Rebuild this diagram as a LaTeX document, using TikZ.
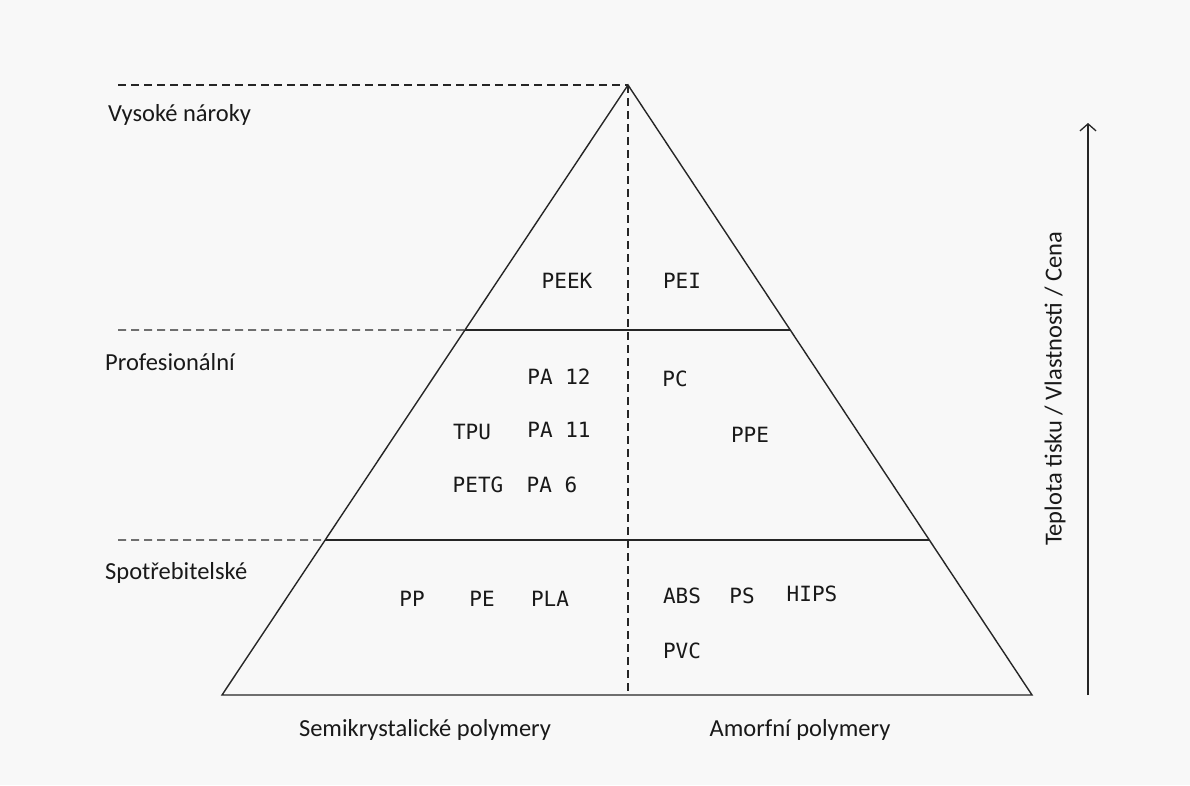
\documentclass[tikz,border=0pt]{standalone}
\usepackage{fontspec}
\setmainfont{Carlito}
\newfontfamily\matfont{DejaVu Sans Mono}
\usetikzlibrary{arrows.meta,calc}
\definecolor{ink}{HTML}{262626}
\definecolor{paper}{HTML}{F8F8F8}

\begin{document}
\begin{tikzpicture}[x=1pt, y=-1pt, every node/.style={inner sep=0pt, text=black!90},
	level/.style={font=\fontsize{24.5}{28}\selectfont, anchor=base west},
	mat/.style={font=\matfont\fontsize{21}{24}\selectfont},
	guide/.style={ink, line width=1.2pt, dash pattern=on 8pt off 5pt},
	>={Straight Barb[length=7pt,width=16pt]}]
	% canvas
	\fill[paper] (0,0) rectangle (1190,785);
	\useasboundingbox (0,0) rectangle (1190,785);

	% pyramid
	\coordinate (apex) at (628,85);
	\coordinate (bl) at (222,695);
	\coordinate (br) at (1032,695);
	\coordinate (bm) at (628,695);
	\coordinate (ml) at ($(apex)!0.4016!(bl)$);
	\coordinate (mr) at ($(apex)!0.4016!(br)$);
	\coordinate (ll) at ($(apex)!0.7459!(bl)$);
	\coordinate (lr) at ($(apex)!0.7459!(br)$);
	\draw[ink, line width=1.4pt, line join=miter] (bl) -- (apex) -- (br) -- cycle;
	\draw[ink, line width=1.4pt] (ml) -- (mr);
	\draw[ink, line width=1.4pt] (ll) -- (lr);
	\draw[guide] (apex) -- (bm);

	% level guides
	\coordinate (g1) at (118,85);
	\coordinate (g2) at (118,330);
	\coordinate (g3) at (118,540);
	\draw[guide] (g1) -- (apex);
	\draw[guide] (g2) -- (ml);
	\draw[guide] (g3) -- (ll);
	\node[level] (high) at (108,121) {Vysoké nároky};
	\node[level] (pro) at (105,370) {Profesionální};
	\node[level] (cons) at (105,579) {Spotřebitelské};

	% materials
	\node[mat] (peek) at (567,281) {PEEK};
	\node[mat] (pei) at (682,281) {PEI};
	\node[mat] (pa12) at (559,377) {PA 12};
	\node[mat] (pc) at (675,379) {PC};
	\node[mat] (tpu) at (472,432) {TPU};
	\node[mat] (pa11) at (559,430) {PA 11};
	\node[mat] (ppe) at (750,435) {PPE};
	\node[mat] (petg) at (478,485) {PETG};
	\node[mat] (pa6) at (552,485) {PA 6};
	\node[mat] (pp) at (412,599) {PP};
	\node[mat] (pe) at (482,599) {PE};
	\node[mat] (pla) at (550,599) {PLA};
	\node[mat] (abs) at (682,596) {ABS};
	\node[mat] (ps) at (742,596) {PS};
	\node[mat] (hips) at (812,594) {HIPS};
	\node[mat] (pvc) at (682,651) {PVC};

	% classes
	\node[font=\fontsize{24.5}{28}\selectfont] (semi) at (425,730) {Semikrystalické polymery};
	\node[font=\fontsize{24.5}{28}\selectfont] (amorf) at (800,730) {Amorfní polymery};

	% axis
	\coordinate (abot) at (1088,695);
	\coordinate (atop) at (1088,123);
	\draw[->, ink, line width=1.3pt] (abot) -- (atop);
	\node[font=\fontsize{24.5}{28}\selectfont, rotate=90] (axis) at (1055,389) {Teplota tisku / Vlastnosti / Cena};
\end{tikzpicture}
\end{document}
